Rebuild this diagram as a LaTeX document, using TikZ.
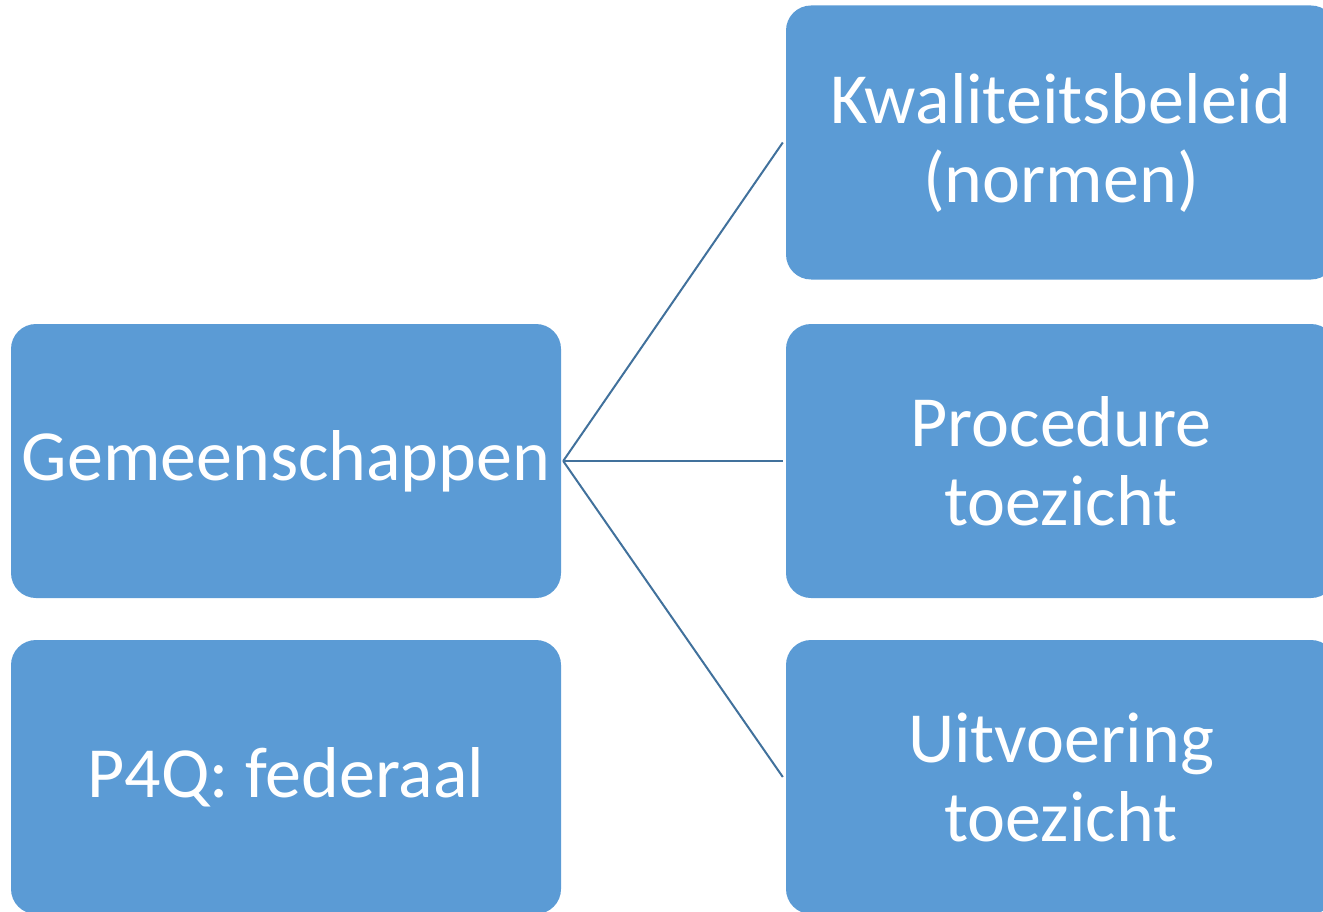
\documentclass[tikz,border=0pt]{standalone}
\usepackage{fontspec}
\setmainfont{Carlito}
\definecolor{boxblue}{HTML}{5B9BD5}
\definecolor{lineblue}{HTML}{41719C}
\tikzset{
  box/.style={fill=boxblue, rounded corners=25pt, minimum width=550pt, minimum height=274pt,
    inner sep=0pt, text=white, align=center,
    font=\fontsize{72pt}{79pt}\selectfont},
  conn/.style={draw=lineblue, line width=2pt}
}
\begin{document}
\begin{tikzpicture}[x=1pt,y=-1pt]
\useasboundingbox (0,0) rectangle (1323,912);
\clip (0,0) rectangle (1323,912);
\node[box] (gem) at (286,461) {Gemeenschappen};
\node[box] (p4q) at (286,777) {P4Q: federaal};
\node[box] (kwa) at (1061,142.5) {Kwaliteitsbeleid\\(normen)};
\node[box] (pro) at (1061,461) {Procedure\\toezicht};
\node[box] (uit) at (1061,777) {Uitvoering\\toezicht};
\draw[conn] ([xshift=2pt]gem.east) -- ([xshift=-3pt]kwa.west);
\draw[conn] ([xshift=2pt]gem.east) -- ([xshift=-3pt]pro.west);
\draw[conn] ([xshift=2pt]gem.east) -- ([xshift=-3pt]uit.west);
\end{tikzpicture}
\end{document}
